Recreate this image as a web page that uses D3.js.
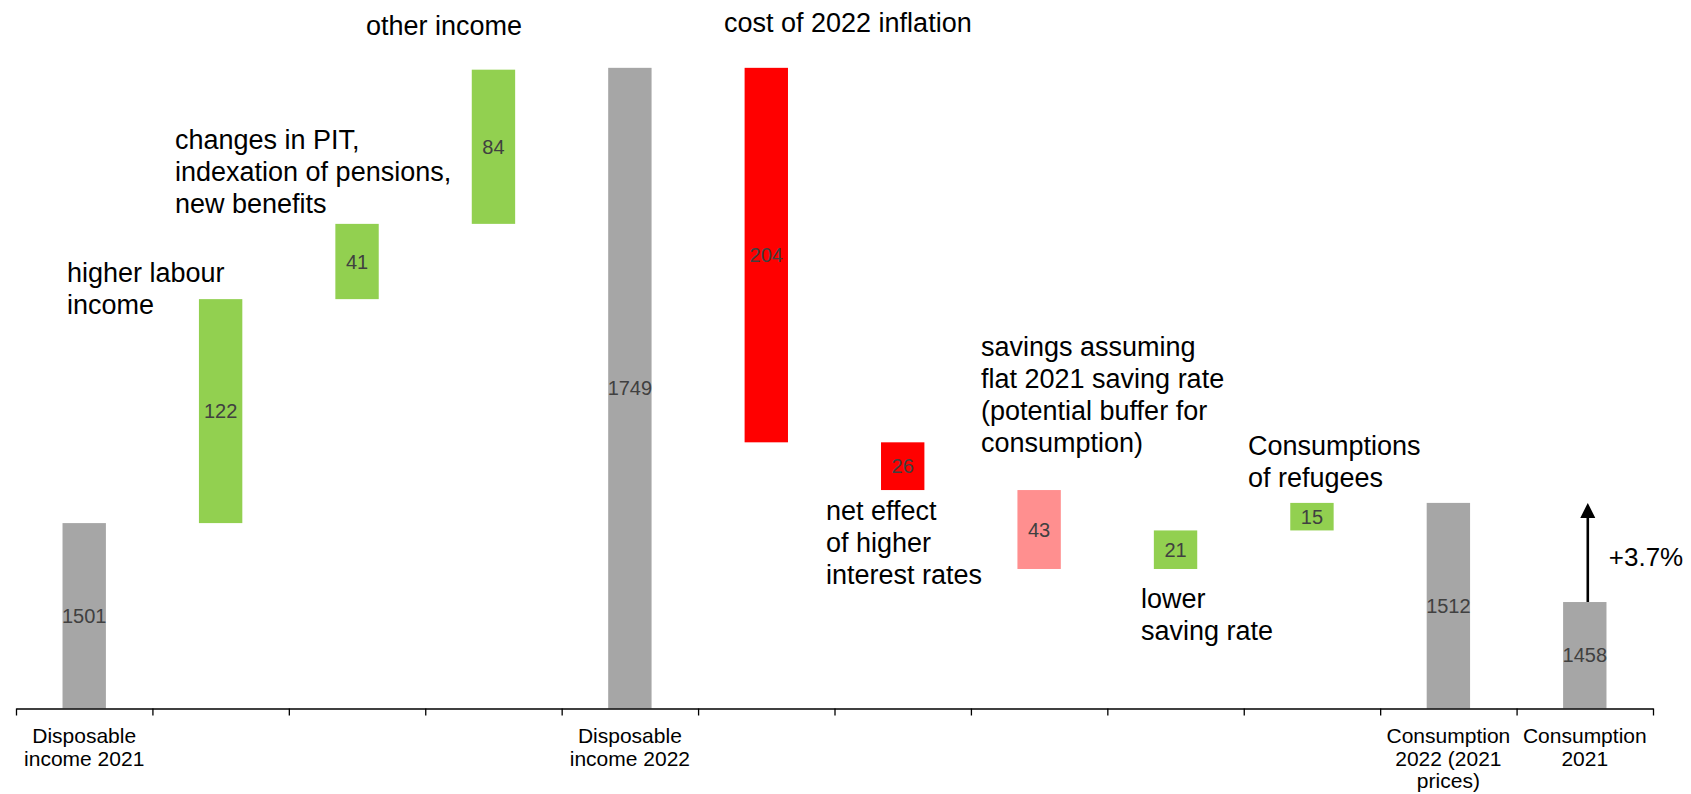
<!DOCTYPE html>
<html>
<head>
<meta charset="utf-8">
<script src="https://cdn.jsdelivr.net/npm/d3@7"></script>
<style>
  html, body { margin: 0; padding: 0; background: #ffffff; }
  svg { display: block; font-family: "Liberation Sans", Arial, sans-serif; }
</style>
</head>
<body>
<svg id="chart" width="1691" height="794"></svg>
<script>
// Household income to consumption bridge, 2021 -> 2022
const categories = [
  "Disposable income 2021",
  "higher labour income",
  "changes in PIT, indexation of pensions, new benefits",
  "other income",
  "Disposable income 2022",
  "cost of 2022 inflation",
  "net effect of higher interest rates",
  "savings assuming flat 2021 saving rate",
  "lower saving rate",
  "Consumptions of refugees",
  "Consumption 2022 (2021 prices)",
  "Consumption 2021"
];
const values = [1501, 122, 41, 84, 1749, -204, -26, -43, 21, 15, 1512, 1458];
// "total" bars stand on the axis, the others float on the running total
const kinds = ["total", "up", "up", "up", "total", "down", "down", "buffer", "up", "up", "total", "total"];

const axisLabels = [
  ["Disposable", "income 2021"], [], [], [],
  ["Disposable", "income 2022"], [], [], [], [], [],
  ["Consumption", "2022 (2021", "prices)"],
  ["Consumption", "2021"]
];

const noteTexts = [
  ["higher labour", "income"],
  ["changes in PIT,", "indexation of pensions,", "new benefits"],
  ["other income"],
  ["cost of 2022 inflation"],
  ["net effect", "of higher", "interest rates"],
  ["savings assuming", "flat 2021 saving rate", "(potential buffer for", "consumption)"],
  ["lower", "saving rate"],
  ["Consumptions", "of refugees"]
];
const growthLabel = "+3.7%";

const yDomain = [1400, 1750];

// ---- layout ----
const W = 1691, H = 794;
const plot = { left: 16, right: 1653, top: 66, bottom: 708.5 };
const colors = { total: "#a6a6a6", up: "#92d050", down: "#ff0000", buffer: "#ff8f8f" };
const notePlacement = [
  { x: 67, y: 282 }, { x: 175, y: 149 }, { x: 366, y: 35 }, { x: 724, y: 32 },
  { x: 826, y: 520 }, { x: 981, y: 356 }, { x: 1141, y: 608 }, { x: 1248, y: 455 }
];
const noteLine = 32;

const svg = d3.select("#chart");

const x = d3.scaleBand()
  .domain(categories)
  .range([plot.left, plot.right])
  .paddingInner(0.682)
  .paddingOuter(0.341);

const y = d3.scaleLinear().domain(yDomain).range([plot.bottom, plot.top]);

// running totals for the floating segments
let running = 0;
const bars = categories.map((c, i) => {
  let lo, hi;
  if (kinds[i] === "total") {
    lo = yDomain[0]; hi = values[i]; running = values[i];
  } else {
    const start = running, end = running + values[i];
    lo = Math.min(start, end); hi = Math.max(start, end); running = end;
  }
  return { cat: c, value: values[i], kind: kinds[i], lo, hi };
});

svg.append("g").selectAll("rect")
  .data(bars)
  .join("rect")
  .attr("x", d => x(d.cat))
  .attr("width", x.bandwidth())
  .attr("y", d => y(d.hi))
  .attr("height", d => y(d.lo) - y(d.hi))
  .attr("fill", d => colors[d.kind]);

// value labels in the middle of each bar
svg.append("g").selectAll("text")
  .data(bars)
  .join("text")
  .attr("x", d => x(d.cat) + x.bandwidth() / 2)
  .attr("y", d => (y(d.lo) + y(d.hi)) / 2)
  .attr("dy", "0.36em")
  .attr("text-anchor", "middle")
  .attr("font-size", 20)
  .attr("fill", "#404040")
  .text(d => Math.abs(d.value));

// category axis: ticks on the band boundaries
const edge = d3.scaleLinear().domain([0, categories.length]).range([plot.left, plot.right]);
const axisG = svg.append("g")
  .attr("transform", `translate(0,${plot.bottom})`)
  .call(d3.axisBottom(edge).tickValues(d3.range(categories.length + 1)).tickFormat("").tickSize(7).tickSizeOuter(0));
axisG.select(".domain").attr("stroke", "#000").attr("stroke-width", 1.6);
axisG.selectAll(".tick line").attr("stroke", "#000").attr("stroke-width", 1.3);

const catLabels = svg.append("g").selectAll("text")
  .data(categories)
  .join("text")
  .attr("x", d => x(d) + x.bandwidth() / 2)
  .attr("y", 743)
  .attr("text-anchor", "middle")
  .attr("font-size", 21)
  .attr("fill", "#000");
catLabels.each(function (d, i) {
  d3.select(this).selectAll("tspan")
    .data(axisLabels[i])
    .join("tspan")
    .attr("x", x(d) + x.bandwidth() / 2)
    .attr("dy", (t, j) => j === 0 ? 0 : 22.5)
    .text(t => t);
});

// explanatory notes
const notes = svg.append("g").selectAll("text")
  .data(noteTexts)
  .join("text")
  .attr("x", (d, i) => notePlacement[i].x)
  .attr("y", (d, i) => notePlacement[i].y)
  .attr("font-size", 27)
  .attr("fill", "#000");
notes.each(function (lines, i) {
  d3.select(this).selectAll("tspan")
    .data(lines)
    .join("tspan")
    .attr("x", notePlacement[i].x)
    .attr("dy", (t, j) => j === 0 ? 0 : noteLine)
    .text(t => t);
});

// growth arrow from consumption 2021 up to consumption 2022
const last = categories[categories.length - 1];
const ax = x(last) + x.bandwidth() / 2 + 3;
const fromY = y(values[values.length - 1]);
const toY = y(values[values.length - 2]);
const head = 15;
svg.append("line")
  .attr("x1", ax).attr("x2", ax)
  .attr("y1", fromY).attr("y2", toY + head - 1)
  .attr("stroke", "#000").attr("stroke-width", 2.6);
svg.append("path")
  .attr("d", `M${ax},${toY} L${ax - head / 2},${toY + head} L${ax + head / 2},${toY + head} Z`)
  .attr("fill", "#000");
svg.append("text")
  .attr("x", ax + 21)
  .attr("y", (fromY + toY) / 2 + 14)
  .attr("font-size", 26)
  .attr("fill", "#000")
  .text(growthLabel);
</script>
</body>
</html>
